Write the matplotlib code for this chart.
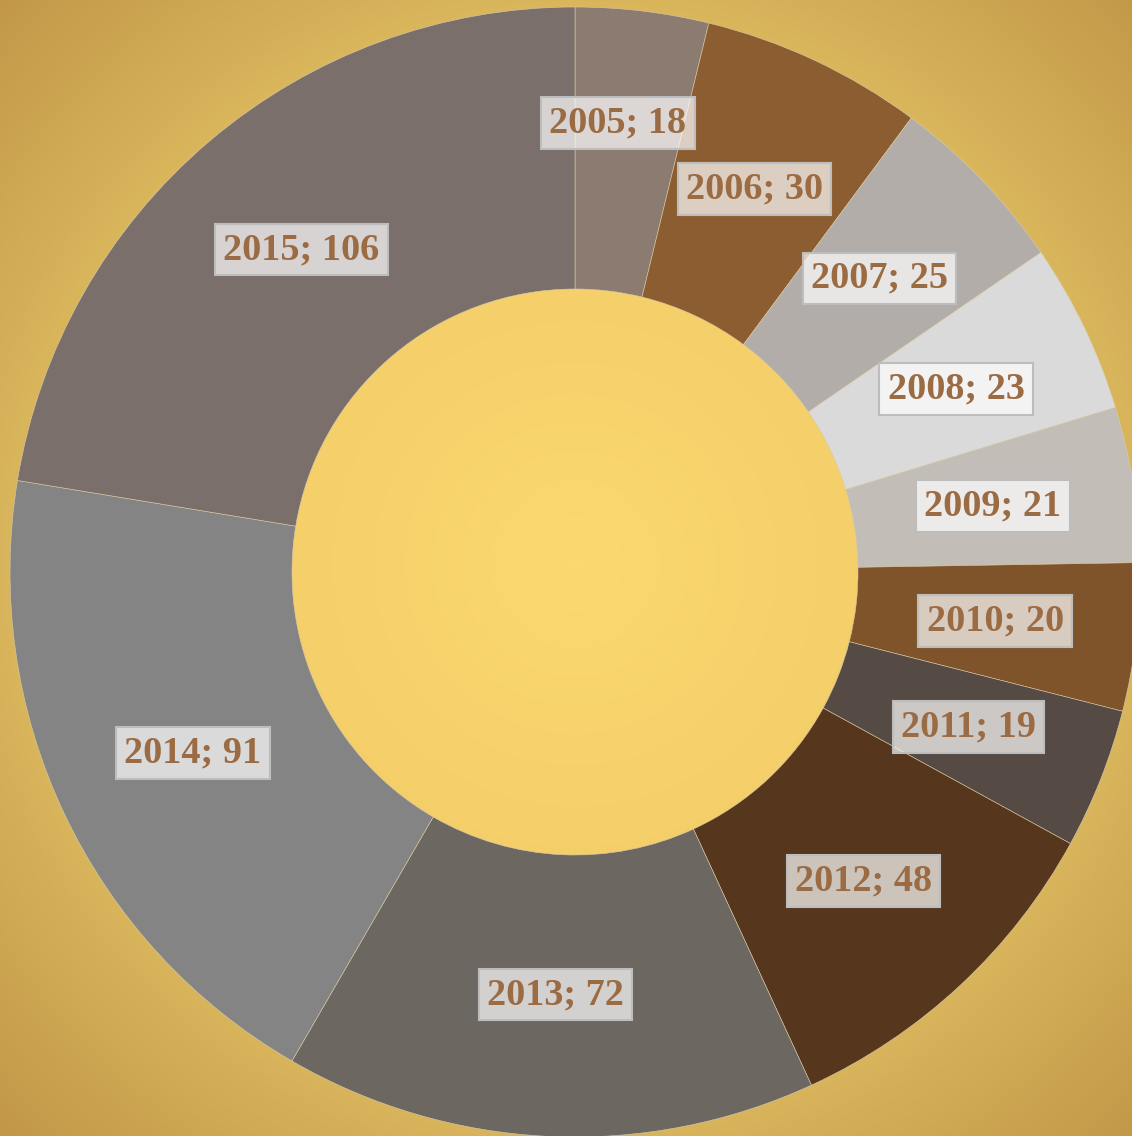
import numpy as np
import matplotlib
matplotlib.use("Agg")
import matplotlib.pyplot as plt
from matplotlib.colors import LinearSegmentedColormap

years = ["2005", "2006", "2007", "2008", "2009", "2010", "2011", "2012", "2013", "2014", "2015"]
values = [18, 30, 25, 23, 21, 20, 19, 48, 72, 91, 106]
colors = ["#8C7B70", "#8C5D30", "#B2ADA9", "#DADADA", "#C3BDB8", "#7F542A",
          "#554A44", "#56371E", "#6D6762", "#848484", "#7A6F6A"]

W, H = 1132, 1136
cx, cy = 575, H - 572
r_out, r_in = 565, 283

fig = plt.figure(figsize=(W / 100, H / 100), dpi=100)
ax = fig.add_axes([0, 0, 1, 1])

# radial golden background
xx, yy = np.meshgrid(np.arange(W) + 0.5, np.arange(H) + 0.5)
d = np.hypot(xx - cx, yy - (H - cy)) / 805.0
bg = LinearSegmentedColormap.from_list(
    "bg", [(0, "#FCD970"), (0.35, "#F5CF6A"), (0.7, "#D9B55C"), (1, "#C29848")])
ax.imshow(d, cmap=bg, vmin=0, vmax=1, extent=(0, W, 0, H), origin="lower", zorder=0)

wedges, _ = ax.pie(values, colors=colors, radius=r_out, center=(cx, cy), startangle=90,
                   counterclock=False, frame=True,
                   wedgeprops=dict(width=r_out - r_in, edgecolor="#D9CBA8", linewidth=0.4))
ax.set_xlim(0, W)
ax.set_ylim(0, H)
ax.set_aspect("equal")
ax.axis("off")

total = sum(values)
cum = np.cumsum([0] + values[:-1])
for i, (yr, v) in enumerate(zip(years, values)):
    ang = np.deg2rad(90 - (cum[i] + v / 2) / total * 360)
    rr = 452 if i == 0 else 423
    x = cx + rr * np.cos(ang)
    y = cy + rr * np.sin(ang)
    if i == 0:
        x -= 11
    ax.text(x, y, f"{yr}; {v}", ha="center", va="center", fontsize=27.5,
            fontweight="bold", family="Liberation Serif", color="#9B6B43", zorder=5,
            bbox=dict(boxstyle="square,pad=0.22", facecolor=(1, 1, 1, 0.7),
                      edgecolor="#BDBDBD", linewidth=1.5))

fig.savefig("out.png", dpi=100)
